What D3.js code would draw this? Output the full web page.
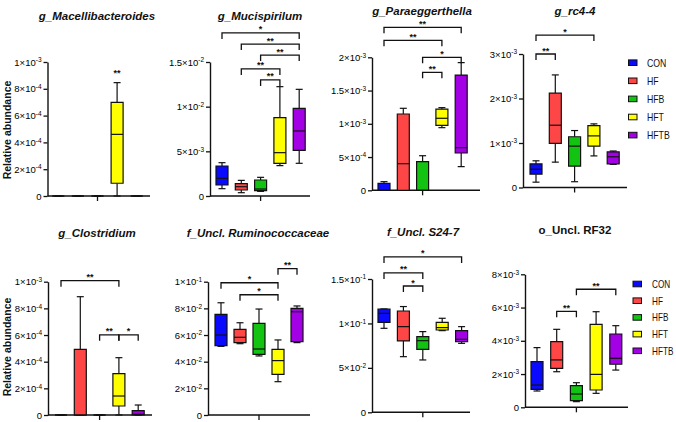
<!DOCTYPE html>
<html><head><meta charset="utf-8">
<script src="https://cdn.jsdelivr.net/npm/d3@7"></script>
<style>body{margin:0;background:#fff} svg{display:block;font-family:"Liberation Sans",Arial,sans-serif}</style>
</head><body><svg id="chart" width="676" height="422"></svg>
<script>
// ---------- DATA ----------
const groups = ["CON", "HF", "HFB", "HFT", "HFTB"];
const groupColors = ["#0a0aff", "#ff4646", "#12c312", "#ffff00", "#a300e6"];

// five-number summaries per group: [min, q1, median, q3, max]
const macellibacteroides = [[0,0,0,0,0],[0,0,0,0,0],[0,0,0,0,0],[0,0.095e-3,0.46e-3,0.699e-3,0.846e-3],[0,0,0,0,0]];
const mucispirilum = [[0.00082,0.00123,0.00198,0.00336,0.00373],[0.00037,0.00067,0.00104,0.00138,0.00175],[0.00052,0.0006,0.00078,0.00179,0.00209],[0.0034,0.00366,0.00485,0.00877,0.01224],[0.00366,0.00511,0.00728,0.00981,0.01194]];
const paraeggerthella = [[0,0,0,0.105e-3,0.13e-3],[0,0,0.4e-3,1.147e-3,1.233e-3],[0,0,0,0.43e-3,0.52e-3],[0.942e-3,0.977e-3,1.083e-3,1.222e-3,1.243e-3],[0.356e-3,0.561e-3,0.642e-3,1.733e-3,1.92e-3]];
const rc44 = [[0.12e-3,0.30e-3,0.41e-3,0.53e-3,0.60e-3],[0.57e-3,0.99e-3,1.40e-3,2.12e-3,2.53e-3],[0.13e-3,0.48e-3,0.93e-3,1.14e-3,1.28e-3],[0.71e-3,0.93e-3,1.16e-3,1.39e-3,1.43e-3],[0.52e-3,0.53e-3,0.69e-3,0.80e-3,0.82e-3]];
const clostridium = [[0,0,0,0,0],[0,0,0,0.493e-3,0.8875e-3],[0,0,0,0,0],[0,0.0675e-3,0.1425e-3,0.31e-3,0.43e-3],[0,0,0.005e-3,0.0325e-3,0.075e-3]];
const ruminococcaceae = [[0.0515,0.052,0.06,0.0755,0.0842],[0.0535,0.0543,0.0583,0.0643,0.0692],[0.0443,0.0455,0.0495,0.0688,0.0795],[0.025,0.0305,0.0408,0.0493,0.0563],[0.0543,0.055,0.0775,0.08,0.0818]];
const s247 = [[0.0945,0.1013,0.1114,0.116,0.1163],[0.0626,0.0803,0.0964,0.114,0.119],[0.0589,0.0709,0.0806,0.0851,0.0908],[0.0919,0.0926,0.0953,0.1013,0.1058],[0.0776,0.0795,0.0821,0.0919,0.0964]];
const rf32 = [[0.98e-3,1.08e-3,1.34e-3,2.75e-3,3.59e-3],[2.14e-3,2.34e-3,2.85e-3,3.95e-3,4.69e-3],[0.34e-3,0.4e-3,0.8e-3,1.3e-3,1.48e-3],[0.84e-3,1.04e-3,1.98e-3,4.99e-3,5.75e-3],[2.24e-3,2.59e-3,2.95e-3,4.41e-3,4.91e-3]];

// significance: [groupA, groupB, level (data units), label]
const macellibacteroidesSig = [["HFT","HFT",0.00093,"**"]];
const mucispirilumSig = [["CON","HFTB",0.01825,"*"],["HF","HFTB",0.01701,"**"],["HFB","HFTB",0.01578,"**"],["HF","HFT",0.01422,"**"],["HFB","HFT",0.01299,"**"]];
const paraeggerthellaSig = [["CON","HFTB",0.002451,"**"],["CON","HFT",0.002256,"**"],["HFB","HFTB",0.002,"*"],["HFB","HFT",0.001774,"**"]];
const rc44Sig = [["CON","HFT",0.003425,"*"],["CON","HF",0.003,"**"]];
const clostridiumSig = [["CON","HFT",0.0010075,"**"],["HFB","HFT",0.0006015,"**"],["HFT","HFTB",0.0006015,"*"]];
const ruminococcaceaeSig = [["CON","HFT",0.0992,"*"],["HF","HFT",0.0902,"*"],["HFT","HFTB",0.1098,"**"]];
const s247Sig = [["CON","HFTB",0.1748,"*"],["CON","HFB",0.1568,"**"],["HF","HFB",0.1421,"*"]];
const rf32Sig = [["HF","HFB",0.00577,"**"],["HFB","HFTB",0.0071,"**"]];

// y tick values
const ticksA = [0, 2e-4, 4e-4, 6e-4, 8e-4, 1e-3];
const ticksB = [0, 5e-3, 1e-2, 1.5e-2];
const ticksC = [0, 5e-4, 1e-3, 1.5e-3, 2e-3];
const ticksD = [0, 1e-3, 2e-3, 3e-3];
const ticksE = [0, 2e-2, 4e-2, 6e-2, 8e-2, 1e-1];
const ticksF = [0, 5e-2, 1e-1, 1.5e-1];
const ticksG = [0, 2e-3, 4e-3, 6e-3, 8e-3];

const titles = ["g_Macellibacteroides","g_Mucispirilum","g_Paraeggerthella","g_rc4-4","g_Clostridium","f_Uncl. Ruminococcaceae","f_Uncl. S24-7","o_Uncl. RF32"];
const yLabel = "Relative abundance";

// ---------- LAYOUT ----------
const panels = [
  {title:titles[0], italic:true, data:macellibacteroides, sig:macellibacteroidesSig, ticks:ticksA, ax:47.5, zero:196, top:62, first:58.3, step:19.6, xEnd:150, tx:97, ty:19.5},
  {title:titles[1], italic:true, data:mucispirilum, sig:mucispirilumSig, ticks:ticksB, ax:210, zero:196, top:62, first:222, step:19.3, xEnd:310, tx:260, ty:19.5},
  {title:titles[2], italic:true, data:paraeggerthella, sig:paraeggerthellaSig, ticks:ticksC, ax:372, zero:190.3, top:57.3, first:384, step:19.3, xEnd:480, tx:422, ty:14.5},
  {title:titles[3], italic:true, data:rc44, sig:rc44Sig, ticks:ticksD, ax:523, zero:187.5, top:54, first:536, step:19.3, xEnd:627, tx:575, ty:14.5},
  {title:titles[4], italic:true, data:clostridium, sig:clostridiumSig, ticks:ticksA, ax:48, zero:415, top:281.7, first:61, step:19.3, xEnd:152, tx:97, ty:237},
  {title:titles[5], italic:true, data:ruminococcaceae, sig:ruminococcaceaeSig, ticks:ticksE, ax:208, zero:415, top:281.7, first:221, step:19, xEnd:310, tx:258, ty:237},
  {title:titles[6], italic:true, data:s247, sig:s247Sig, ticks:ticksF, ax:372, zero:412.3, top:279, first:384, step:19.4, xEnd:470, tx:423, ty:236},
  {title:titles[7], italic:false, data:rf32, sig:rf32Sig, ticks:ticksG, ax:525, zero:407.3, top:274.3, first:537, step:19.7, xEnd:628, tx:575, ty:234}
];

const svg = d3.select("#chart");
const color = d3.scaleOrdinal().domain(groups).range(groupColors);

function sciParts(v){
  if (v === 0) return ["0", null];
  const e = Math.floor(Math.log10(v) + 1e-9);
  const m = +(v / Math.pow(10, e)).toFixed(2);
  return [m + "\u00d710", String(e)];
}

panels.forEach(p => {
  const g = svg.append("g");
  const y = d3.scaleLinear().domain([0, p.ticks[p.ticks.length-1]]).range([p.zero, p.top]);
  const x = d3.scalePoint().domain(groups).range([p.first, p.first + 4*p.step]);

  // title
  g.append("text").attr("x", p.tx).attr("y", p.ty).attr("text-anchor","middle")
    .attr("font-size","11.5px").attr("font-weight","bold")
    .attr("font-style", p.italic ? "italic" : "normal").attr("fill","#111").text(p.title);

  // y axis
  const yAxis = d3.axisLeft(y).tickValues(p.ticks).tickSize(4).tickSizeOuter(0).tickPadding(2);
  const ya = g.append("g").attr("transform", `translate(${p.ax},0)`).call(yAxis);
  ya.select(".domain").attr("stroke","#111").attr("stroke-width",1.4);
  ya.selectAll(".tick line").attr("stroke","#111").attr("stroke-width",1.3);
  ya.selectAll(".tick text").attr("font-size","9.5px").attr("font-family",'"Liberation Sans",Arial,sans-serif').attr("fill","#000")
    .each(function(d){
      const t = d3.select(this); const parts = sciParts(d);
      t.text(parts[0]);
      if (parts[1]) t.append("tspan").attr("dy","-0.5em").attr("font-size","6.5px").text(parts[1]);
    });

  // x axis
  g.append("line").attr("x1", p.ax).attr("x2", p.xEnd).attr("y1", p.zero).attr("y2", p.zero)
    .attr("stroke","#111").attr("stroke-width",1.4);
  g.append("line").attr("x1", x(groups[2])).attr("x2", x(groups[2])).attr("y1", p.zero).attr("y2", p.zero+5)
    .attr("stroke","#111").attr("stroke-width",1.3);

  // boxes
  const bw = 12, cw = 7;
  groups.forEach((grp, i) => {
    const [mn, q1, md, q3, mx] = p.data[i];
    const cx = x(grp);
    const bg = g.append("g").attr("stroke","#111").attr("stroke-width",1.2);
    bg.append("line").attr("x1",cx).attr("x2",cx).attr("y1",y(q3)).attr("y2",y(mx));
    bg.append("line").attr("x1",cx).attr("x2",cx).attr("y1",y(q1)).attr("y2",y(mn));
    bg.append("line").attr("x1",cx-cw/2).attr("x2",cx+cw/2).attr("y1",y(mx)).attr("y2",y(mx));
    bg.append("line").attr("x1",cx-cw/2).attr("x2",cx+cw/2).attr("y1",y(mn)).attr("y2",y(mn));
    bg.append("path").attr("d", `M${cx-bw/2},${y(q3)}H${cx+bw/2}V${y(q1)}H${cx-bw/2}Z`).attr("fill", color(grp));
    bg.append("line").attr("x1",cx-bw/2).attr("x2",cx+bw/2).attr("y1",y(md)).attr("y2",y(md));
  });

  // significance brackets
  p.sig.forEach(([a, b, lev, lab]) => {
    const yy = y(lev);
    const xa = x(a), xb = x(b);
    if (a !== b) {
      g.append("path").attr("d", `M${xa},${yy+6}V${yy}H${xb}V${yy+6}`).attr("fill","none")
        .attr("stroke","#111").attr("stroke-width",1.3);
    }
    g.append("text").attr("x",(xa+xb)/2).attr("y", a !== b ? yy - 0.5 : yy + 5).attr("text-anchor","middle")
      .attr("font-size","9px").attr("font-weight","bold").attr("fill","#111").text(lab);
  });
});

// y labels
[130, 347].forEach(cy => {
  svg.append("text").attr("transform", `translate(11,${cy}) rotate(-90)`).attr("text-anchor","middle")
    .attr("font-size","10.5px").attr("font-weight","bold").attr("fill","#111").text(yLabel);
});

// legends
[{x:628.5, y0:62.7, dy:18.1, tx:647, sx:0.83}, {x:633, y0:284, dy:16.7, tx:652, sx:0.78}].forEach(L => {
  const lg = svg.append("g");
  groups.forEach((grp, i) => {
    const cy = L.y0 + i*L.dy;
    lg.append("rect").attr("x", L.x).attr("y", cy-2.8).attr("width", 8.5).attr("height", 5.6)
      .attr("fill", color(grp)).attr("stroke","#111").attr("stroke-width",1);
    lg.append("text").attr("transform", `translate(${L.tx},${cy+3.8}) scale(${L.sx},1)`)
      .attr("font-size","10.5px").attr("fill","#111").text(grp);
  });
});
</script></body></html>
